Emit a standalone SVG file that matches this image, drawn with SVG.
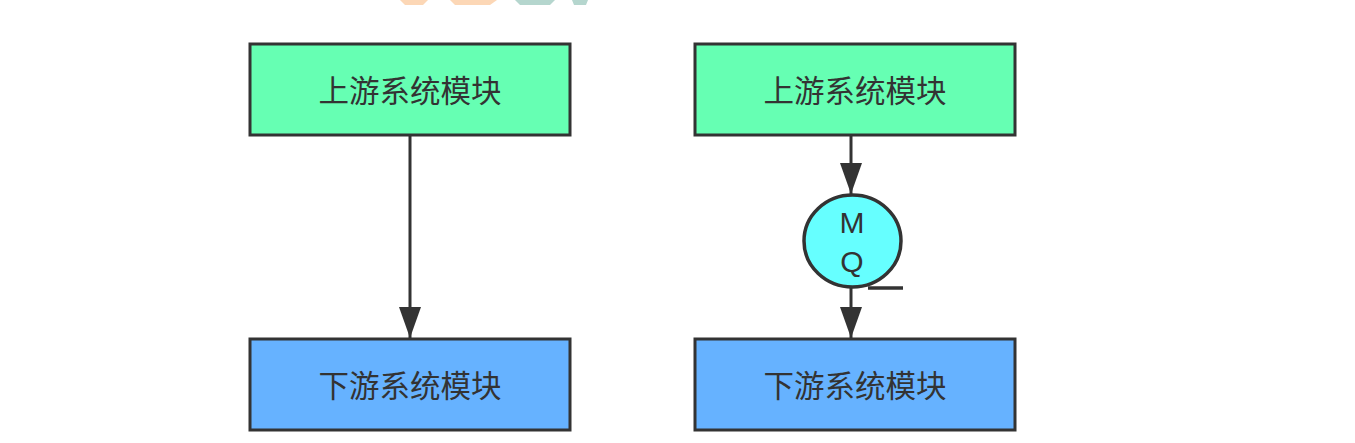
<svg xmlns="http://www.w3.org/2000/svg" width="1355" height="443" viewBox="0 0 1355 443">
<style>
.box{stroke:#333;stroke-width:3}
.up{fill:#66FFB3}
.down{fill:#66B2FF}
.lbl{font-family:"Noto Sans CJK SC","Liberation Sans",sans-serif;font-size:30.5px;fill:#333;text-anchor:middle;dominant-baseline:central}
.mq{font-family:"Liberation Sans",sans-serif;font-size:30px;fill:#333;text-anchor:middle}
.edge{stroke:#333;stroke-width:3;fill:none}
</style>
<defs>
<marker id="arr2" viewBox="0 0 32 22" markerUnits="userSpaceOnUse" markerWidth="32" markerHeight="22" refX="31" refY="11" orient="auto">
<path d="M0,0 L31,11 L0,22 Z" fill="#333"/>
</marker>
</defs>
<rect width="1355" height="443" fill="#fff"/>
<g id="watermark">
<polygon points="400,0 428,0 423,5 405,5" fill="#FCD7B6"/>
<polygon points="450,0 497,0 490,5 455,5" fill="#FCD7B6"/>
<polygon points="515,0 555,0 550,5 520,5" fill="#B5D6CE"/>
<polygon points="572,0 588,0 586,5 574,5" fill="#B5D6CE"/>
</g>
<g id="connectors">
<line class="edge" x1="410" y1="135" x2="410" y2="338" marker-end="url(#arr2)"/>
<line class="edge" x1="851" y1="135" x2="851" y2="194" marker-end="url(#arr2)"/>
<line class="edge" x1="851" y1="288" x2="851" y2="338" marker-end="url(#arr2)"/>
</g>
<g id="up-left">
<rect class="box up" x="250" y="44" width="320" height="91"/>
<text class="lbl" x="410" y="89">上游系统模块</text>
</g>
<g id="down-left">
<rect class="box down" x="250" y="339" width="320" height="91"/>
<text class="lbl" x="410" y="384">下游系统模块</text>
</g>
<g id="up-right">
<rect class="box up" x="695" y="44" width="320" height="91"/>
<text class="lbl" x="855" y="89">上游系统模块</text>
</g>
<g id="down-right">
<rect class="box down" x="695" y="339" width="320" height="91"/>
<text class="lbl" x="855" y="384">下游系统模块</text>
</g>
<g id="mq">
<ellipse cx="852.5" cy="241" rx="48.5" ry="46" fill="#66FFFF" stroke="#333" stroke-width="3.5"/>
<line x1="868" y1="288" x2="903" y2="288" stroke="#333" stroke-width="3.5"/>
<text class="mq" x="852" y="233">M</text>
<text class="mq" x="852" y="272">Q</text>
</g>
</svg>
